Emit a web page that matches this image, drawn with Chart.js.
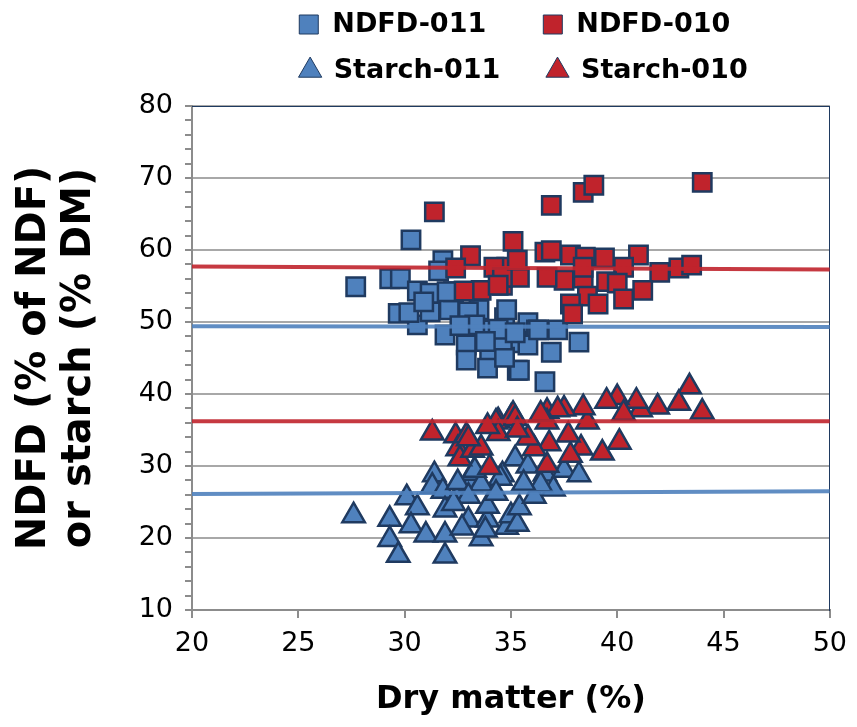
<!DOCTYPE html>
<html>
<head>
<meta charset="utf-8">
<script src="https://cdn.jsdelivr.net/npm/chart.js@4.4.1/dist/chart.umd.min.js"></script>
<style>
html,body{margin:0;padding:0;background:#ffffff;}
#wrap{width:857px;height:727px;}
</style>
</head>
<body>
<div id="wrap"><canvas id="c" width="857" height="727"></canvas></div>
<script>
// ---------------- data ----------------
const seriesNames = ['NDFD-011', 'NDFD-010', 'Starch-011', 'Starch-010'];

// [dry matter %, value]
const ndfd011 = [
  [27.7,54.9],[30.3,61.4],[29.3,56.0],[29.8,56.0],[30.6,54.3],[31.8,58.5],[31.6,57.1],
  [29.7,51.2],[30.6,49.6],[30.2,51.3],[31.2,51.4],[32.1,51.7],[31.9,48.2],[32.9,46.8],
  [32.9,44.7],[34.0,45.4],[33.9,43.6],[35.3,43.3],[33.5,51.7],[34.7,50.6],[32.3,54.2],
  [34.8,51.7],[35.8,49.9],[37.2,48.9],[38.2,47.2],[36.9,45.8],[35.3,47.1],[35.4,43.3],
  [36.6,41.7],[34.7,45.1],[31.2,54.0],[32.0,54.2],[33.0,51.4],[34.1,48.9],[36.2,48.9],
  [34.6,47.5],[35.8,46.8],[36.3,48.9],[33.3,49.6],[34.4,49.0],[33.8,47.3],[32.6,49.5],
  [30.9,52.8],[35.2,48.5]
];
const ndfd010 = [
  [31.4,65.3],[36.9,66.2],[38.4,68.0],[38.9,69.0],[44.0,69.4],[35.1,61.2],[36.6,59.7],
  [36.9,59.9],[37.8,59.3],[38.5,59.0],[39.4,58.9],[41.0,59.3],[40.3,57.6],[42.0,56.9],
  [42.9,57.5],[43.5,57.9],[37.5,55.8],[38.4,56.1],[39.5,55.6],[40.0,55.4],[41.2,54.4],
  [38.6,53.6],[39.1,52.5],[40.3,53.2],[37.8,52.5],[37.9,51.1],[34.6,55.1],[34.8,57.6],
  [35.4,56.2],[33.1,59.2],[32.4,57.5],[33.6,54.4],[32.8,54.3],[34.2,57.6],[34.6,56.2],
  [35.3,58.6],[38.4,57.6],[36.7,56.2],[34.4,55.1]
];
const starch011 = [
  [27.6,23.1],[29.3,22.6],[29.3,19.8],[29.7,17.6],[30.1,25.6],[30.6,24.2],[30.3,21.7],
  [31.0,20.4],[31.4,28.8],[31.3,27.2],[31.8,26.5],[31.9,23.9],[31.9,20.4],[31.9,17.5],
  [32.6,26.2],[33.1,27.4],[33.0,22.5],[33.6,19.9],[33.9,22.5],[34.6,28.8],[34.8,21.5],
  [33.2,29.0],[32.5,27.7],[35.2,31.0],[35.8,30.0],[36.6,28.9],[37.5,29.4],[38.2,28.8],
  [37.0,26.8],[34.5,28.3],[33.6,27.5],[33.0,25.8],[33.9,24.4],[35.0,23.1],[35.3,21.9],
  [35.4,24.2],[36.1,25.8],[33.8,21.1],[33.3,29.4],[32.3,24.8],[34.3,26.2],[36.4,27.4],
  [32.7,21.4],[35.6,27.6]
];
const starch010 = [
  [31.3,34.6],[32.4,34.2],[32.5,32.4],[32.6,31.0],[32.9,34.2],[33.2,32.2],[33.6,32.5],
  [34.0,29.8],[34.4,36.3],[35.0,36.7],[43.4,41.0],[44.0,37.5],[42.9,38.7],[41.9,38.2],
  [41.1,37.8],[40.9,39.0],[40.0,39.5],[40.3,37.3],[39.5,39.0],[40.1,33.3],[39.3,31.8],
  [38.3,32.5],[37.8,31.5],[36.7,30.1],[36.8,33.1],[36.1,32.4],[37.7,34.3],[38.6,36.1],
  [38.4,38.1],[37.5,37.9],[36.7,37.6],[35.1,37.2],[37.2,37.8],[36.7,36.1],[33.0,33.8],
  [34.3,36.1],[35.2,36.6],[36.4,37.2],[35.8,33.9],[34.4,34.5],[35.3,35.0],[33.9,35.5]
];

// trend lines (start / end)
const trendNdfd011   = [[20,49.4],[50,49.3]];
const trendNdfd010   = [[20,57.7],[50,57.3]];
const trendStarch011 = [[20,26.1],[50,26.5]];
const trendStarch010 = [[20,36.2],[50,36.2]];

// axes
const xMin = 20, xMax = 50, xStep = 5;
const yMin = 10, yMax = 80, yMajorStep = 10, yMinorStep = 2;
const xTitle = 'Dry matter (%)';
const yTitle = ['NDFD (% of NDF)', 'or starch (% DM)'];

// ---------------- styling ----------------
const BLUE = '#4F81BD', RED = '#C0232C', NAVY = '#1F3A60';
const BLUE_LINE = 'rgba(79,129,189,0.9)', RED_LINE = 'rgba(192,35,44,0.9)';
const GRID = '#A8A8A8', AXIS = '#8C8C8C';
const FONT = 'DejaVu Sans';
const legendPad = ['    ', '  ', '   ', ''];
const LEGEND_SHIFT = 13;

const toPts = a => a.map(([x, y]) => ({x, y}));

function markerSet(label, data, style, fill, order) {
  return {
    label, data: toPts(data), order,
    pointStyle: style, pointRadius: 13, pointHoverRadius: 13,
    pointBackgroundColor: fill, pointBorderColor: NAVY, pointBorderWidth: 2.5,
    backgroundColor: fill, borderColor: NAVY, borderWidth: 2.5,
    showLine: false
  };
}
function trendSet(data, color) {
  return {
    label: 'trend', data: toPts(data), order: 0,
    showLine: true, pointRadius: 0, pointHoverRadius: 0,
    borderColor: color, backgroundColor: color, borderWidth: 4, fill: false
  };
}

const legendShift = {
  id: 'legendShift',
  afterLayout(chart) {
    const lg = chart.legend;
    if (lg) { lg.left += LEGEND_SHIFT; lg.right += LEGEND_SHIFT; }
  }
};

new Chart(document.getElementById('c'), {
  type: 'scatter',
  plugins: [legendShift],
  data: {
    datasets: [
      markerSet(seriesNames[0], ndfd011, 'rect', BLUE, 4),
      markerSet(seriesNames[1], ndfd010, 'rect', RED, 3),
      markerSet(seriesNames[2], starch011, 'triangle', BLUE, 2),
      markerSet(seriesNames[3], starch010, 'triangle', RED, 1),
      trendSet(trendNdfd011, BLUE_LINE),
      trendSet(trendNdfd010, RED_LINE),
      trendSet(trendStarch011, BLUE_LINE),
      trendSet(trendStarch010, RED_LINE)
    ]
  },
  options: {
    responsive: false,
    animation: false,
    events: [],
    layout: { padding: { top: -8, left: 0, right: 0, bottom: 0 } },
    plugins: {
      tooltip: { enabled: false },
      legend: {
        position: 'top',
        fullSize: false,
        align: 'center',
        labels: {
          usePointStyle: true,
          boxWidth: 20,
          boxHeight: 19,
          padding: 19,
          color: '#000',
          font: { family: FONT, size: 27, weight: 'bold' },
          generateLabels: chart => {
            const items = Chart.defaults.plugins.legend.labels.generateLabels(chart);
            items.forEach(it => {
              if (it.datasetIndex < seriesNames.length) {
                it.text = seriesNames[it.datasetIndex] + legendPad[it.datasetIndex];
              }
              it.lineWidth = 1;
              it.strokeStyle = NAVY;
            });
            return items;
          },
          filter: it => it.datasetIndex < seriesNames.length,
          sort: (a, b) => a.datasetIndex - b.datasetIndex
        }
      }
    },
    scales: {
      x: {
        type: 'linear', position: 'bottom', min: xMin, max: xMax,
        ticks: { stepSize: xStep, color: '#000', font: { family: FONT, size: 27 }, padding: 10 },
        grid: { drawOnChartArea: false, tickLength: 8, color: AXIS, lineWidth: 2 },
        border: { color: AXIS, width: 2 },
        title: { display: true, text: xTitle, color: '#000',
                 font: { family: FONT, size: 32, weight: 'bold', lineHeight: 1.2 },
                 padding: { top: 0, bottom: 8 } },
        afterFit: s => { s.height = 117; }
      },
      y: {
        type: 'linear', position: 'left', min: yMin, max: yMax,
        ticks: { stepSize: yMinorStep, autoSkip: false, color: '#000',
                 font: { family: FONT, size: 27 }, padding: 12,
                 callback: v => (v % yMajorStep === 0 ? String(v) : '') },
        grid: { color: c => (c.tick && c.tick.value % yMajorStep === 0) ? GRID : 'rgba(0,0,0,0)',
                tickColor: AXIS, tickLength: 7, lineWidth: 2 },
        border: { color: AXIS, width: 2 },
        title: { display: true, text: yTitle, color: '#000',
                 font: { family: FONT, size: 40, weight: 'bold', lineHeight: 1.125 },
                 padding: { top: 12, bottom: 0 } },
        afterFit: s => { s.width = 192; }
      },
      xTop: {
        type: 'linear', position: 'top', display: true,
        grid: { display: false }, ticks: { display: false },
        border: { display: true, color: NAVY, width: 1 },
        afterFit: s => { s.height = 12; }
      },
      yRight: {
        type: 'linear', position: 'right', display: true,
        grid: { display: false }, ticks: { display: false },
        border: { display: true, color: NAVY, width: 1 },
        afterFit: s => { s.width = 22; }
      }
    }
  }
});
</script>
</body>
</html>
